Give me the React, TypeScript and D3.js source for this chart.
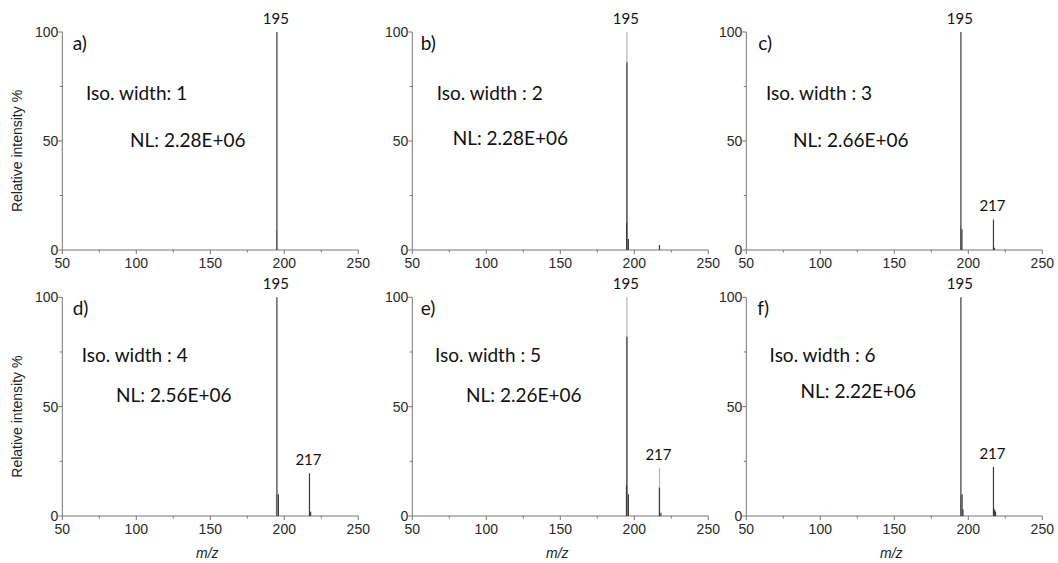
import React, { useEffect, useRef } from "react";
import * as d3 from "d3";

// panel titles / annotations
const panelLetters = ["a)", "b)", "c)", "d)", "e)", "f)"];
const isoWidths = ["Iso. width: 1", "Iso. width : 2", "Iso. width : 3", "Iso. width : 4", "Iso. width : 5", "Iso. width : 6"];
const normLevels = ["NL: 2.28E+06", "NL: 2.28E+06", "NL: 2.66E+06", "NL: 2.56E+06", "NL: 2.26E+06", "NL: 2.22E+06"];

// stick spectra [m/z, relative intensity]; "light" = faint centroid trace, "dark" = profile
const lightSticks: [number, number][][] = [
  [[194.8, 9]],
  [[195, 100]],
  [[194.8, 11]],
  [[194.7, 10]],
  [[195, 100], [217, 22]],
  [[194.8, 9]],
];
const darkSticks: [number, number][][] = [
  [[195, 100]],
  [[195, 86], [194.8, 12.5], [196, 5], [217, 2.3]],
  [[195, 100], [195.7, 9.5], [217, 14], [217.6, 1]],
  [[195, 100], [196, 10], [217, 19.5], [217.8, 2]],
  [[195, 82], [194.7, 14], [196, 10], [217, 13], [218, 1.5]],
  [[195, 100], [195.8, 10], [196.4, 3], [217, 22.5], [217.8, 3], [218.4, 2]],
];
// labelled peaks [m/z, intensity, label]
const peakLabels: [number, number, string][][] = [
  [[195, 100, "195"]],
  [[195, 100, "195"]],
  [[195, 100, "195"], [217, 14, "217"]],
  [[195, 100, "195"], [217, 19.5, "217"]],
  [[195, 100, "195"], [217, 22, "217"]],
  [[195, 100, "195"], [217, 22.5, "217"]],
];

const xTicks = [50, 100, 150, 200, 250];
const xMinor = [75, 125, 175, 225];
const yTicks = [0, 50, 100];
const yMinor = [25, 75];

// pixel layout of the 2x3 grid
const colX = [62.3, 412.3, 746.3];
const rowY = [{ top: 32, bottom: 250 }, { top: 297.3, bottom: 516 }];
const panelW = 296;
// text offsets: [letter dx, letter y, iso dx, iso y, nl dx, nl y]
const textPos = [
  [10.4, 50, 23.7, 100, 67.7, 146.7],
  [8.4, 50, 24.4, 100, 40.4, 145],
  [12, 50, 19.7, 100, 46.7, 146.7],
  [10.4, 315, 19.4, 361.7, 53.7, 401.7],
  [8.4, 315, 22.7, 361.7, 53.7, 401.7],
  [11, 315, 23.3, 361.7, 54.3, 398.3],
];

const App = () => {
  const svgRef = useRef<SVGSVGElement>(null);

  useEffect(() => {
    const svg = d3.select(svgRef.current);
    svg.selectAll("*").remove();

    const axisFont = "'Liberation Sans', Arial, sans-serif";
    const textFont = "Lato, 'Open Sans', sans-serif";
    const axisColor = "#777";

    for (let i = 0; i < 6; i++) {
      const row = Math.floor(i / 3);
      const col = i % 3;
      const x0 = colX[col];
      const { top, bottom } = rowY[row];

      const x = d3.scaleLinear().domain([50, 250]).range([x0, x0 + panelW]);
      const y = d3.scaleLinear().domain([0, 100]).range([bottom, top]);

      const g = svg.append("g");

      // x axis
      g.append("line")
        .attr("x1", x(50)).attr("x2", x(250))
        .attr("y1", y(0)).attr("y2", y(0))
        .attr("stroke", axisColor).attr("stroke-width", 1);
      g.selectAll(".xt").data(xTicks).enter().append("line")
        .attr("x1", d => x(d)).attr("x2", d => x(d))
        .attr("y1", y(0)).attr("y2", y(0) + 4)
        .attr("stroke", axisColor);
      g.selectAll(".xm").data(xMinor).enter().append("line")
        .attr("x1", d => x(d)).attr("x2", d => x(d))
        .attr("y1", y(0)).attr("y2", y(0) + 2.5)
        .attr("stroke", axisColor);
      g.selectAll(".xl").data(xTicks).enter().append("text")
        .attr("x", d => x(d))
        .attr("y", y(0) + 18)
        .attr("text-anchor", "middle")
        .style("font-family", axisFont)
        .style("font-size", "14px")
        .style("fill", "#2a2a2a")
        .text(d => d);

      // y axis
      g.append("line")
        .attr("x1", x(50)).attr("x2", x(50))
        .attr("y1", y(0)).attr("y2", y(100))
        .attr("stroke", axisColor).attr("stroke-width", 1);
      g.selectAll(".yt").data(yTicks).enter().append("line")
        .attr("x1", x(50) - 4).attr("x2", x(50))
        .attr("y1", d => y(d)).attr("y2", d => y(d))
        .attr("stroke", axisColor);
      g.selectAll(".ym").data(yMinor).enter().append("line")
        .attr("x1", x(50) - 2.5).attr("x2", x(50))
        .attr("y1", d => y(d)).attr("y2", d => y(d))
        .attr("stroke", axisColor);
      g.selectAll(".yl").data(yTicks).enter().append("text")
        .attr("x", x(50) - 4)
        .attr("y", d => y(d) + 5)
        .attr("text-anchor", "end")
        .style("font-family", axisFont)
        .style("font-size", "14px")
        .style("fill", "#2a2a2a")
        .text(d => d);

      // sticks
      g.selectAll(".ls").data(lightSticks[i]).enter().append("line")
        .attr("x1", d => x(d[0])).attr("x2", d => x(d[0]))
        .attr("y1", y(0)).attr("y2", d => y(d[1]))
        .attr("stroke", "#b5b5b5").attr("stroke-width", 1.2);
      g.selectAll(".ds").data(darkSticks[i]).enter().append("line")
        .attr("x1", d => x(d[0])).attr("x2", d => x(d[0]))
        .attr("y1", y(0)).attr("y2", d => y(d[1]))
        .attr("stroke", "#3a3a3a").attr("stroke-width", 1.2);

      // peak labels
      g.selectAll(".pl").data(peakLabels[i]).enter().append("text")
        .attr("x", d => x(d[0]) - 1)
        .attr("y", d => y(d[1]) - 8)
        .attr("text-anchor", "middle")
        .style("font-family", textFont)
        .style("font-size", "15px")
        .style("fill", "#111")
        .text(d => d[2]);

      // annotations
      const tp = textPos[i];
      const ann = [
        [panelLetters[i], tp[0], tp[1]],
        [isoWidths[i], tp[2], tp[3]],
        [normLevels[i], tp[4], tp[5]],
      ] as [string, number, number][];
      g.selectAll(".an").data(ann).enter().append("text")
        .attr("x", d => x0 + d[1])
        .attr("y", d => d[2])
        .style("font-family", textFont)
        .style("font-size", "19px")
        .style("fill", "#111")
        .text(d => d[0]);

      // axis titles
      if (col === 0) {
        g.append("text")
          .attr("transform", `translate(22,${(top + bottom) / 2 + 10}) rotate(-90)`)
          .attr("text-anchor", "middle")
          .style("font-family", axisFont)
          .style("font-size", "14px")
          .style("fill", "#222")
          .text("Relative intensity %");
      }
      if (row === 1) {
        g.append("text")
          .attr("x", x0 + panelW / 2 - 3)
          .attr("y", 558)
          .attr("text-anchor", "middle")
          .style("font-family", axisFont)
          .style("font-size", "14px")
          .style("font-style", "italic")
          .style("fill", "#222")
          .text("m/z");
      }
    }
  }, []);

  return (
    <svg
      ref={svgRef}
      width={1058}
      height={563}
      style={{ position: "absolute", left: 0, top: 0, background: "#fff" }}
    />
  );
};

export default App;
